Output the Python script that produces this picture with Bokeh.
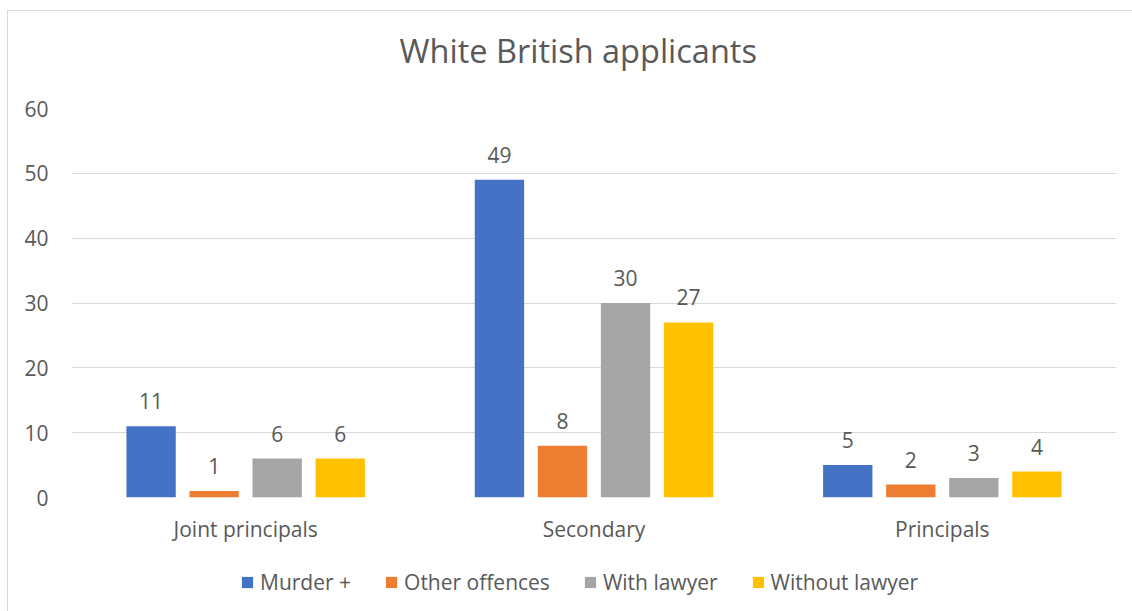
from bokeh.plotting import figure
from bokeh.layouts import column
from bokeh.models import (ColumnDataSource, FactorRange, Legend, LegendItem, Range1d,
                          FixedTicker, Title)
from bokeh.transform import dodge
from bokeh.core.properties import value
from bokeh.embed import file_html
from bokeh.resources import INLINE

categories = ["Joint principals", "Secondary", "Principals"]
series_names = ["Murder +", "Other offences", "With lawyer", "Without lawyer"]
murder = [11, 49, 5]
other_offences = [1, 8, 2]
with_lawyer = [6, 30, 3]
without_lawyer = [6, 27, 4]
colors = ["#4472C4", "#ED7D31", "#A5A5A5", "#FFC000"]
y_ticks = [0, 10, 20, 30, 40, 50, 60]
title_text = "White British applicants"

FONT = "Open Sans"
TXT = "#595959"

src = ColumnDataSource(dict(
    cat=categories,
    s0=murder, s1=other_offences, s2=with_lawyer, s3=without_lawyer,
    l0=[str(v) for v in murder], l1=[str(v) for v in other_offences],
    l2=[str(v) for v in with_lawyer], l3=[str(v) for v in without_lawyer],
))

# ---------------- main chart ----------------
p = figure(
    width=1124, height=546,
    x_range=FactorRange(*categories, range_padding=0),
    y_range=Range1d(0, 60),
    output_backend="svg", toolbar_location=None, title=None,
    min_border_left=63, min_border_right=16, min_border_top=97, min_border_bottom=60,
)

# spacer (closest to the frame) then the real title above it
p.add_layout(Title(text="\u00a0", text_font_size="2px", standoff=32), "above")
p.add_layout(Title(text=title_text, align="left", offset=328, text_font=FONT,
                   text_font_size="32.5px", text_font_style="normal",
                   text_color=TXT, standoff=0, vertical_align="bottom"), "above")

p.outline_line_color = None
p.xgrid.grid_line_color = None
p.ygrid.grid_line_color = "#d9d9d9"
p.ygrid.grid_line_width = 1
p.yaxis.ticker = FixedTicker(ticks=y_ticks)

for ax in (p.xaxis, p.yaxis):
    ax.axis_line_color = None
    ax.major_tick_line_color = None
    ax.minor_tick_line_color = None
    ax.major_tick_out = 0
    ax.major_tick_in = 0
    ax.major_label_text_font = FONT
    ax.major_label_text_font_size = "21px"
    ax.major_label_text_color = TXT
p.yaxis.major_label_standoff = 23
p.xaxis.major_label_standoff = 17

step = 0.181
bw = 0.1416
offsets = [-1.5 * step, -0.5 * step, 0.5 * step, 1.5 * step]
for i, (col, off) in enumerate(zip(colors, offsets)):
    p.vbar(x=dodge("cat", off, range=p.x_range), top=f"s{i}", width=bw,
           source=src, fill_color=col, line_color=None)
    p.text(x=dodge("cat", off, range=p.x_range), y=f"s{i}", text=f"l{i}", source=src,
           text_align="center", text_baseline="alphabetic", y_offset=-25,
           text_font=value(FONT), text_font_size="21px", text_color=TXT)

# ---------------- legend strip ----------------
lg = figure(
    width=1124, height=54,
    x_range=Range1d(0, 1), y_range=Range1d(0, 1),
    output_backend="svg", toolbar_location=None,
    x_axis_location=None, y_axis_location=None,
    min_border=0,
)
lg.outline_line_color = None
lg.grid.visible = False
items = []
for name, col in zip(series_names, colors):
    # swatch-only renderer, placed outside the visible range
    r = lg.vbar(x=[-5], top=[0], width=0.1, fill_color=col, line_color=None)
    items.append(LegendItem(label=name, renderers=[r]))

legend = Legend(items=items, orientation="horizontal", location=(169, 15),
                border_line_alpha=0, background_fill_alpha=0,
                label_text_font=FONT, label_text_font_size="21px", label_text_color=TXT,
                glyph_width=14, glyph_height=14, spacing=33, label_standoff=6,
                padding=0, margin=0)
lg.add_layout(legend, "center")

layout = column(p, lg, spacing=0)
layout.margin = (10, 0, 0, 7)
layout.styles = {"border-left": "1px solid #d9d9d9", "border-top": "1px solid #d9d9d9"}

open("out.html", "w").write(file_html(layout, INLINE))
